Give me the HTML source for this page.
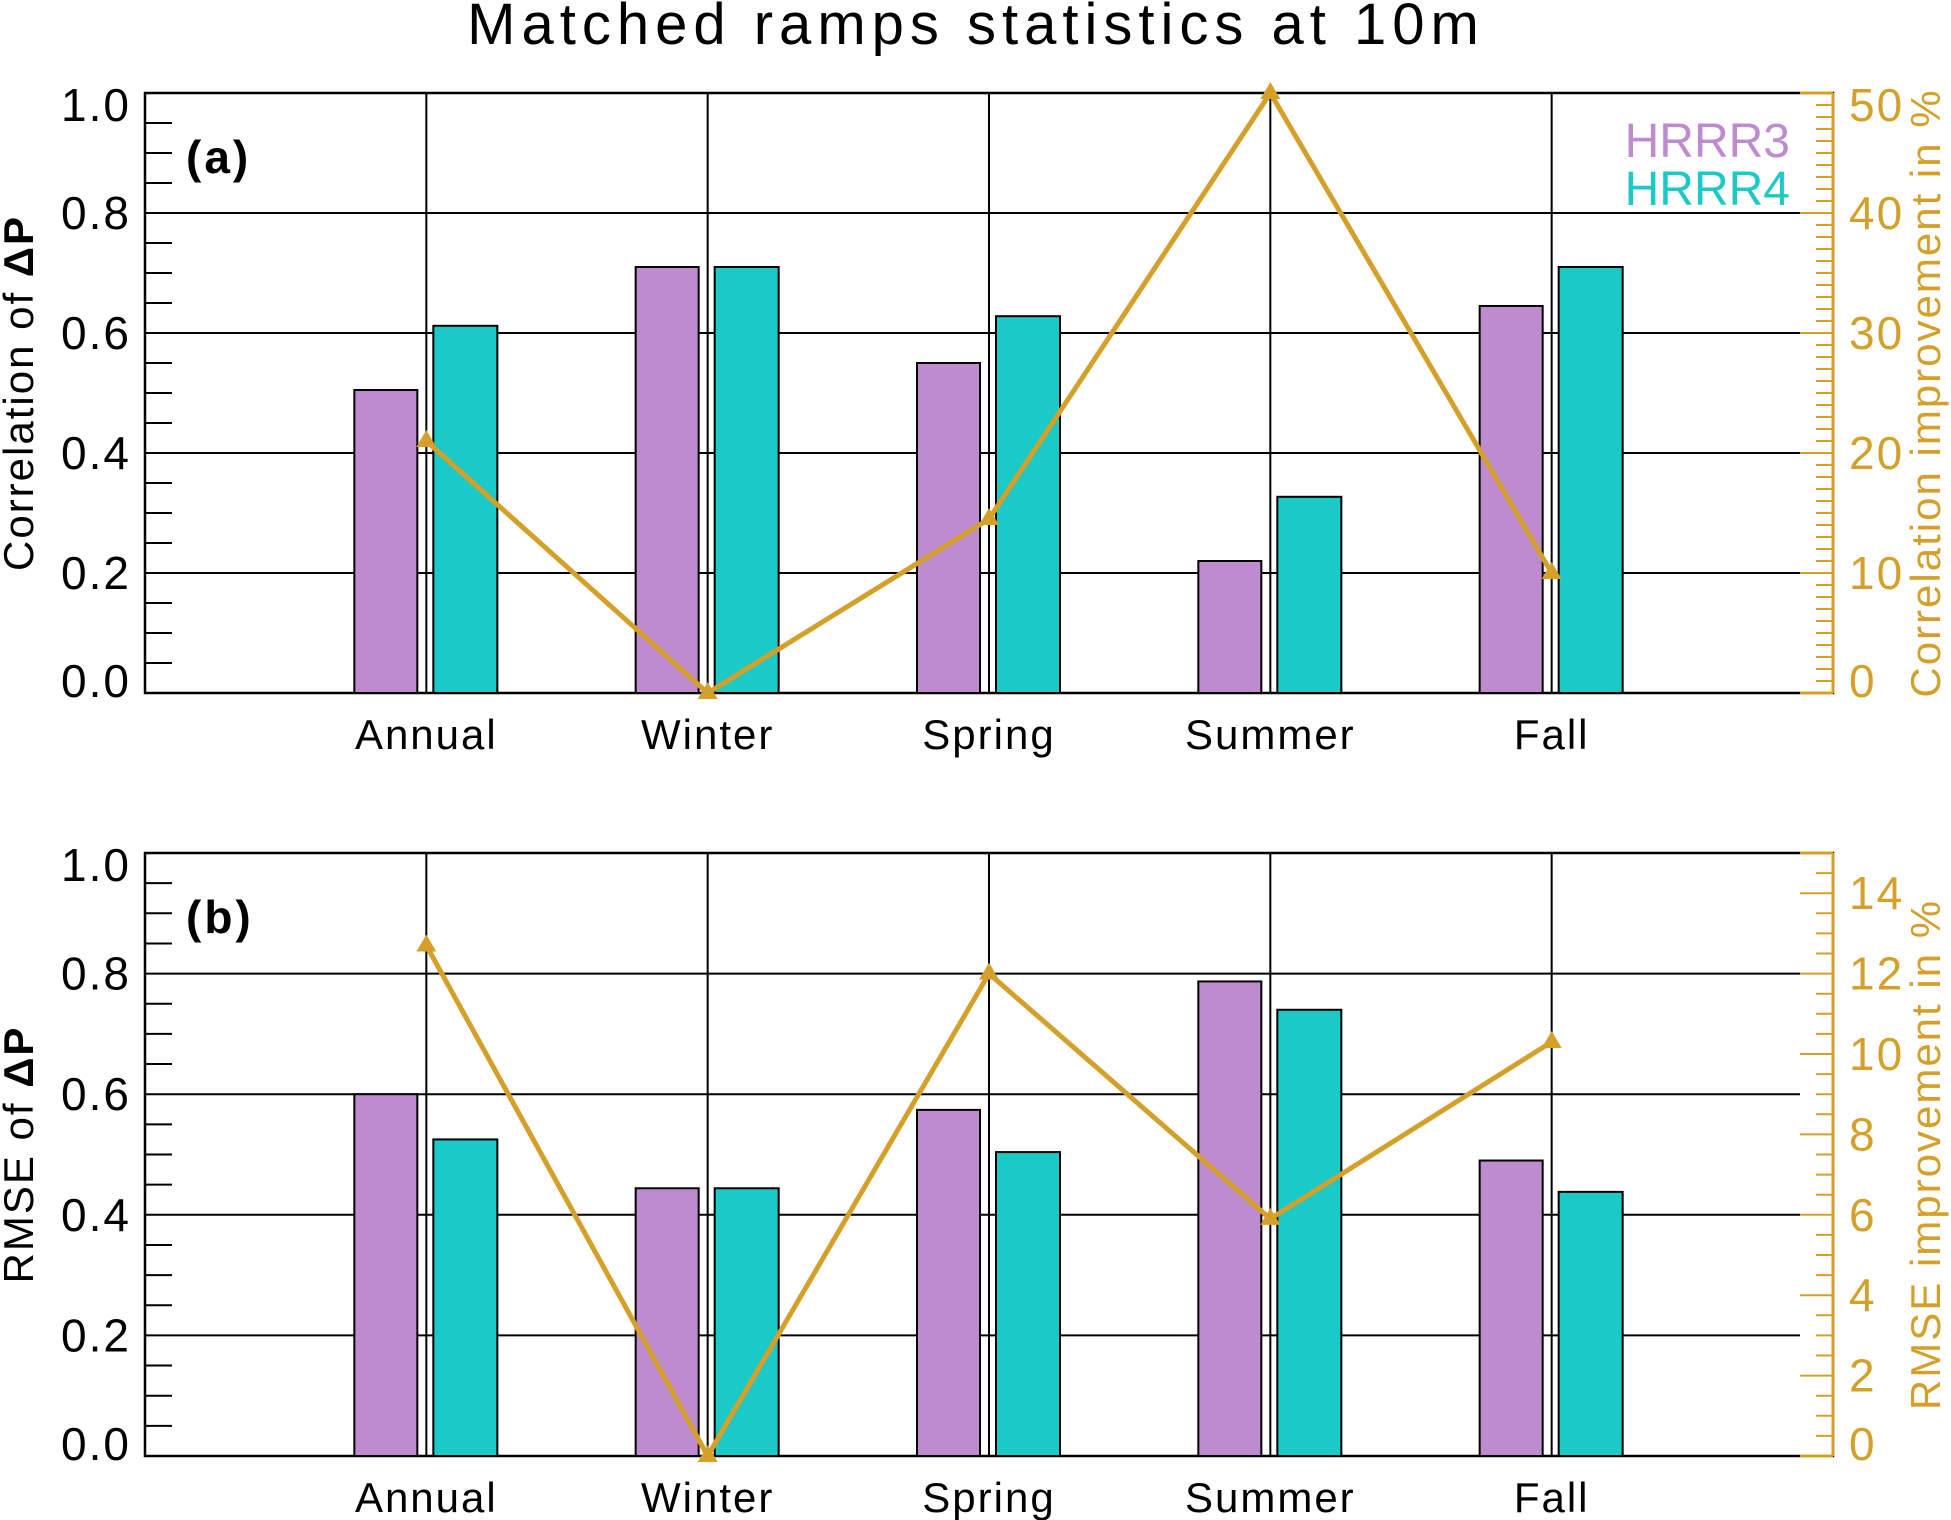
<!DOCTYPE html>
<html><head><meta charset="utf-8"><style>
body{margin:0;background:#fff}
svg{display:block}
text{font-family:"Liberation Sans","DejaVu Sans",sans-serif}
</style></head><body>
<svg id="chart" width="1951" height="1520" viewBox="0 0 1951 1520" xmlns="http://www.w3.org/2000/svg">
<rect width="1951" height="1520" fill="#fff"/>
<text x="976" y="44" font-size="58" text-anchor="middle" letter-spacing="6">Matched ramps statistics at 10m</text>
<g id="plots"></g>
</svg>
<script>
const categories = ["Annual","Winter","Spring","Summer","Fall"];
const corrHRRR3 = [0.505, 0.71, 0.55, 0.22, 0.645];
const corrHRRR4 = [0.612, 0.71, 0.628, 0.327, 0.71];
const corrImprove = [21, 0, 14.5, 50, 10];
const rmseHRRR3 = [0.60, 0.444, 0.574, 0.787, 0.49];
const rmseHRRR4 = [0.525, 0.444, 0.504, 0.74, 0.438];
const rmseImprove = [12.7, 0, 12, 5.9, 10.3];
const leftTicks = ["0.0","0.2","0.4","0.6","0.8","1.0"];
const corrRightTicks = ["0","10","20","30","40","50"];
const rmseRightTicks = ["0","2","4","6","8","10","12","14"];

const NS="http://www.w3.org/2000/svg";
const root=document.getElementById('plots');
const GOLD="#D4A02A", PURPLE="#BF8BCF", TEAL="#1BC9C6";
function mk(tag,attrs,parent){const e=document.createElementNS(NS,tag);for(const k in attrs)e.setAttribute(k,attrs[k]);(parent||root).appendChild(e);return e;}

function panel(cfg){
  const L=145,R=1833,T=cfg.top,B=cfg.bottom;
  const g=mk('g',{});
  
  
  const xs=i=>L+(R-L)*(i+1)/6;
  const yL=v=>B-(B-T)*v;
  const yR=v=>B-(B-T)*v/cfg.rmax;
  const labY=y=>{let o=y+16; if(y<T+5)o+=12; if(y>B-5)o-=12; return o;};
  const fr=mk('rect',{x:L,y:T,width:R-L,height:B-T,fill:'none',stroke:'#000','stroke-width':2.5},g);
  
  
  for(let k=0;k<=20;k++){
    const v=k/20,y=yL(v);
    if(k%4===0){
      const gl=mk('line',{x1:L,x2:R-33,y1:y,y2:y,stroke:'#000','stroke-width':2},g);
      
      
      const t=mk('text',{x:L-14,y:labY(y),'font-size':46,'text-anchor':'end','letter-spacing':2},g);
      t.textContent=leftTicks[k/4];
      
      
    } else {
      mk('line',{x1:L,x2:L+27,y1:y,y2:y,stroke:'#000','stroke-width':2},g);
    }
  }
  categories.forEach((c,i)=>{
    const x=xs(i);
    const vl=mk('line',{x1:x,x2:x,y1:T,y2:B,stroke:'#000','stroke-width':2},g);
    
    
    const t=mk('text',{x:x,y:B+56,'font-size':42,'text-anchor':'middle','letter-spacing':2},g);
    t.textContent=c;
    
    
  });
  categories.forEach((c,i)=>{
    const x=xs(i);
    const v3=cfg.h3[i],v4=cfg.h4[i];
    const b3=mk('rect',{x:x-72,y:yL(v3),width:63,height:B-yL(v3),fill:PURPLE,stroke:'#000','stroke-width':2},g);
    
    
    const b4=mk('rect',{x:x+7,y:yL(v4),width:64,height:B-yL(v4),fill:TEAL,stroke:'#000','stroke-width':2},g);
    
    
  });
  const ra=mk('line',{x1:R,x2:R,y1:T,y2:B,stroke:GOLD,'stroke-width':3},g);
  
  
  mk('line',{x1:R-33,x2:R,y1:T,y2:T,stroke:GOLD,'stroke-width':3},g);
  mk('line',{x1:R-33,x2:R,y1:B,y2:B,stroke:GOLD,'stroke-width':3},g);
  const nMinor=Math.round(cfg.rmax/cfg.minor);
  for(let k=0;k<=nMinor;k++){
    const v=k*cfg.minor,y=yR(v);
    const major=Math.abs(v/cfg.major-Math.round(v/cfg.major))<1e-6;
    mk('line',{x1:major?R-33:R-17,x2:R,y1:y,y2:y,stroke:GOLD,'stroke-width':2},g);
  }
  cfg.rticks.forEach((lab,i)=>{
    const y=yR(i*cfg.major);
    const t=mk('text',{x:R+16,y:labY(y),'font-size':46,fill:GOLD,'letter-spacing':2},g);
    t.textContent=lab;
    
    
  });
  const pts=cfg.imp.map((v,i)=>xs(i)+','+yR(v)).join(' ');
  const pl=mk('polyline',{points:pts,fill:'none',stroke:GOLD,'stroke-width':5},g);
  
  
  cfg.imp.forEach((v,i)=>{
    const x=xs(i),y=yR(v);
    const m=mk('polygon',{points:`${x},${y-11} ${x-10},${y+6} ${x+10},${y+6}`,fill:GOLD},g);
    
    
  });
  const pt=mk('text',{x:186,y:T+80,'font-size':46,'font-weight':'bold','letter-spacing':3},g);
  pt.textContent=cfg.label;
  
  
  const cy=(T+B)/2;
  const lt=mk('text',{x:0,y:0,'font-size':42,'text-anchor':'middle','letter-spacing':2,transform:`translate(33,${cy}) rotate(-90)`},g);
  lt.innerHTML=cfg.ltitle;
  
  
  const rt=mk('text',{x:0,y:0,'font-size':42,'text-anchor':'middle',fill:GOLD,'letter-spacing':2,transform:`translate(1940,${cy}) rotate(-90)`},g);
  rt.textContent=cfg.rtitle;
  
  
}

panel({name:'panel-a-correlation',top:93,bottom:693,h3:corrHRRR3,h4:corrHRRR4,imp:corrImprove,rmax:50,major:10,minor:1,rticks:corrRightTicks,label:'(a)',ltitle:'Correlation of <tspan font-weight="bold">ΔP</tspan>',rtitle:'Correlation improvement in %'});
panel({name:'panel-b-rmse',top:853,bottom:1456,h3:rmseHRRR3,h4:rmseHRRR4,imp:rmseImprove,rmax:15,major:2,minor:0.5,rticks:rmseRightTicks,label:'(b)',ltitle:'RMSE of <tspan font-weight="bold">ΔP</tspan>',rtitle:'RMSE improvement in %'});

const l3=mk('text',{x:1790,y:157,'font-size':48,'text-anchor':'end',fill:PURPLE});
l3.textContent='HRRR3';


const l4=mk('text',{x:1790,y:205,'font-size':48,'text-anchor':'end',fill:TEAL});
l4.textContent='HRRR4';


</script>
</body></html>
